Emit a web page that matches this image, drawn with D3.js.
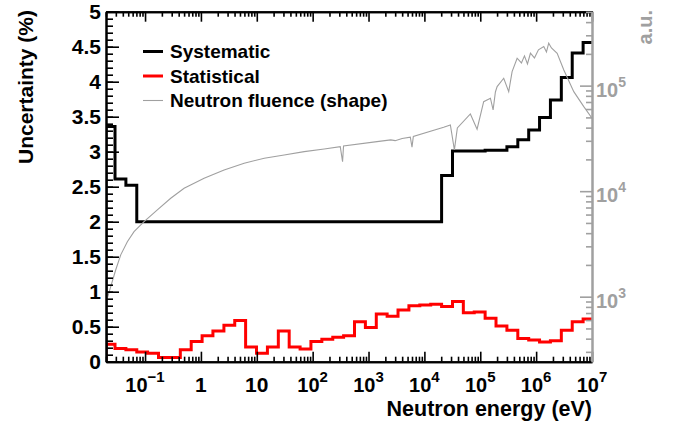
<!DOCTYPE html>
<html>
<head>
<meta charset="utf-8">
<script src="https://cdn.jsdelivr.net/npm/d3@7"></script>
<style>
  body { margin: 0; background: #fff; }
  svg { display: block; font-family: "Liberation Sans", Arial, Helvetica, sans-serif; font-weight: bold; }
</style>
</head>
<body>
<svg id="chart" width="676" height="426"></svg>
<script>
// Bin edges (eV) shared by both uncertainty histograms
const binEdges = [0.02, 0.0290, 0.0454, 0.0711, 0.111, 0.174, 0.273, 0.428, 0.670, 1.05,
  1.64, 2.58, 4.03, 6.31, 9.89, 15.5, 24.3, 38.0, 59.6, 93.1,
  146, 229, 358, 561, 879, 1377, 2153, 3373, 5284, 8279,
  12970, 20320, 31840, 49770, 77980, 122200, 191400, 299900, 469900, 736200,
  1151000, 1803000, 2825000, 4426000, 6934000, 10000000];

// Uncertainties (%) per bin
const systematic = [3.36, 2.61, 2.52,
  2.0, 2.0, 2.0, 2.0, 2.0, 2.0, 2.0, 2.0, 2.0, 2.0, 2.0, 2.0, 2.0, 2.0,
  2.0, 2.0, 2.0, 2.0, 2.0, 2.0, 2.0, 2.0, 2.0, 2.0, 2.0, 2.0, 2.0, 2.0,
  2.66, 3.01, 3.01, 3.01, 3.02, 3.02, 3.07, 3.17, 3.31, 3.49, 3.74, 4.06, 4.41, 4.56];
const statistical = [0.25, 0.19, 0.17, 0.14, 0.12, 0.06, 0.06, 0.17, 0.29, 0.37,
  0.44, 0.52, 0.59, 0.21, 0.12, 0.21, 0.44, 0.21, 0.18, 0.29,
  0.32, 0.35, 0.37, 0.57, 0.49, 0.68, 0.65, 0.74, 0.80, 0.81,
  0.82, 0.79, 0.86, 0.70, 0.71, 0.62, 0.51, 0.45, 0.33, 0.31,
  0.28, 0.30, 0.45, 0.57, 0.61];

// Neutron fluence shape (a.u., right axis)
const fluenceEnergy = [0.0204, 0.0243, 0.0298, 0.0367, 0.0482, 0.0635, 0.096, 0.166, 0.288, 0.50,
  1.14, 2.60, 5.94, 13.6, 30.9, 70.6, 161, 312, 343, 357,
  1416, 2500, 3000, 4000, 5600, 6000, 6340, 22130, 29170, 34420,
  38900, 66530, 87700, 115100, 152000, 169800, 186600, 200400, 263000, 323000,
  371500, 457000, 545800, 618000, 699800, 790700, 933000, 1100000, 1370000, 1530000,
  1680000, 1880000, 2380000, 3130000, 4720000, 7130000, 10000000];
const fluence = [910, 1245, 1790, 2490, 3320, 4130, 5140, 6640, 8570, 10660,
  13250, 15890, 18400, 20510, 22050, 23700, 25120, 26420, 19040, 26830,
  29450, 30600, 30100, 31600, 32430, 26080, 33040, 40360, 42440, 24590,
  39720, 53950, 38640, 70500, 76000, 58880, 87100, 97900, 117500, 87700,
  135800, 181900, 164100, 191400, 160700, 202800, 183200, 218300, 234400, 208900,
  252500, 227600, 202800, 140900, 87700, 63240, 49090];

const yTickLabels = ["0", "0.5", "1", "1.5", "2", "2.5", "3", "3.5", "4", "4.5", "5"];
const xDecades = [0.1, 1, 10, 1e2, 1e3, 1e4, 1e5, 1e6, 1e7];
const xDecadeLabels = [["10", "\u22121"], ["1", ""], ["10", ""], ["10", "2"], ["10", "3"],
  ["10", "4"], ["10", "5"], ["10", "6"], ["10", "7"]];
const rightDecades = [1e3, 1e4, 1e5];
const rightDecadeLabels = [["10", "3"], ["10", "4"], ["10", "5"]];
const legendNames = ["Systematic", "Statistical", "Neutron fluence (shape)"];
const legendColors = ["#000000", "#ff0000", "#a0a0a0"];

const frameL = 106, frameR = 592, frameT = 11.7, frameB = 361.7;
const grey = "#a0a0a0";

const svg = d3.select("#chart");

const x = d3.scaleLog().domain([0.02, 1e7]).range([frameL, frameR]);
const y = d3.scaleLinear().domain([0, 5]).range([frameB, frameT]);
const yR = d3.scaleLog().domain([242, 5.02e5]).range([frameB, frameT]);

svg.append("defs").append("clipPath").attr("id", "frame")
  .append("rect")
  .attr("x", frameL).attr("y", frameT)
  .attr("width", frameR - frameL).attr("height", frameB - frameT);

// Histograms as step lines
function histPoints(values) {
  const pts = [[binEdges[0], 0]];
  values.forEach((v, i) => pts.push([binEdges[i], v]));
  pts.push([binEdges[binEdges.length - 1], values[values.length - 1]]);
  return pts;
}
const stepLine = d3.line()
  .x(d => x(d[0]))
  .y(d => y(d[1]))
  .curve(d3.curveStepAfter);

const plot = svg.append("g").attr("clip-path", "url(#frame)");

plot.append("path")
  .attr("d", stepLine(histPoints(statistical)))
  .attr("fill", "none")
  .attr("stroke", "#ff0000")
  .attr("stroke-width", 3);

plot.append("path")
  .attr("d", stepLine(histPoints(systematic)))
  .attr("fill", "none")
  .attr("stroke", "#000")
  .attr("stroke-width", 3);

const fluenceLine = d3.line()
  .x((d, i) => x(fluenceEnergy[i]))
  .y(d => yR(d));

plot.append("path")
  .attr("d", fluenceLine(fluence))
  .attr("fill", "none")
  .attr("stroke", grey)
  .attr("stroke-width", 1.1);

// Axes
function styleAxis(g, color) {
  g.select(".domain").attr("stroke", color).attr("stroke-width", 2);
  g.selectAll(".tick line").attr("stroke", color).attr("stroke-width", 1.6);
}

const xMinor = x.ticks().filter(t => !xDecades.includes(t));

// bottom
svg.append("g").attr("transform", `translate(0,${frameB})`)
  .call(d3.axisBottom(x).tickValues(xMinor).tickSize(-5).tickSizeOuter(0).tickFormat(""))
  .call(g => styleAxis(g, "#000"));
svg.append("g").attr("transform", `translate(0,${frameB})`)
  .call(d3.axisBottom(x).tickValues(xDecades).tickSize(-10).tickSizeOuter(0).tickFormat(""))
  .call(g => styleAxis(g, "#000"));
// top
svg.append("g").attr("transform", `translate(0,${frameT})`)
  .call(d3.axisTop(x).tickValues(xMinor).tickSize(-5).tickSizeOuter(0).tickFormat(""))
  .call(g => styleAxis(g, "#000"));
svg.append("g").attr("transform", `translate(0,${frameT})`)
  .call(d3.axisTop(x).tickValues(xDecades).tickSize(-10).tickSizeOuter(0).tickFormat(""))
  .call(g => styleAxis(g, "#000"));

// x labels
const xLab = svg.append("g").selectAll("text")
  .data(xDecades)
  .join("text")
  .attr("x", d => x(d))
  .attr("y", 392)
  .attr("text-anchor", "middle")
  .attr("fill", "#000");
xLab.each(function (d, i) {
  const [base, exp] = xDecadeLabels[i];
  const t = d3.select(this);
  t.append("tspan").attr("font-size", exp ? 20 : 21).text(base);
  if (exp) t.append("tspan").attr("font-size", 15).attr("dy", -10).text(exp);
});

// left axis
svg.append("g").attr("transform", `translate(${frameL},0)`)
  .call(d3.axisLeft(y).ticks(50).tickSize(-7).tickSizeOuter(0).tickFormat(""))
  .call(g => styleAxis(g, "#000"));
svg.append("g").attr("transform", `translate(${frameL},0)`)
  .call(d3.axisLeft(y).ticks(10).tickSize(-13).tickSizeOuter(0).tickPadding(5)
    .tickFormat((d, i) => yTickLabels[i]))
  .call(g => styleAxis(g, "#000"))
  .call(g => g.selectAll("text")
    .attr("font-size", 21).attr("font-family", null).attr("fill", "#000"));

// right axis (log, grey)
const rMinor = yR.ticks().filter(t => !rightDecades.includes(t));
svg.append("g").attr("transform", `translate(${frameR},0)`)
  .call(d3.axisRight(yR).tickValues(rMinor).tickSize(-6).tickSizeOuter(0).tickFormat(""))
  .call(g => styleAxis(g, grey));
svg.append("g").attr("transform", `translate(${frameR},0)`)
  .call(d3.axisRight(yR).tickValues(rightDecades).tickSize(-12).tickSizeOuter(0).tickFormat(""))
  .call(g => styleAxis(g, grey));

const rLab = svg.append("g").selectAll("text")
  .data(rightDecades)
  .join("text")
  .attr("x", frameR + 4)
  .attr("y", d => yR(d) + 11)
  .attr("fill", grey);
rLab.each(function (d, i) {
  const [base, exp] = rightDecadeLabels[i];
  const t = d3.select(this);
  t.append("tspan").attr("font-size", 20).text(base);
  t.append("tspan").attr("font-size", 14).attr("dy", -10).text(exp);
});

// axis titles
svg.append("text")
  .attr("x", frameR)
  .attr("y", 416)
  .attr("text-anchor", "end")
  .attr("font-size", 21.5)
  .text("Neutron energy (eV)");

svg.append("text")
  .attr("transform", "translate(33,10) rotate(-90)")
  .attr("text-anchor", "end")
  .attr("font-size", 21)
  .text("Uncertainty (%)");

svg.append("text")
  .attr("transform", "translate(652,10) rotate(-90)")
  .attr("text-anchor", "end")
  .attr("font-size", 20)
  .attr("fill", grey)
  .text("a.u.");

// legend
const legend = svg.append("g").selectAll("g")
  .data(legendNames)
  .join("g")
  .attr("transform", (d, i) => `translate(143,${51.5 + i * 24.5})`);
legend.append("line")
  .attr("x1", 0).attr("x2", 20)
  .attr("stroke", (d, i) => legendColors[i])
  .attr("stroke-width", (d, i) => i < 2 ? 3 : 1.1);
legend.append("text")
  .attr("x", 27)
  .attr("y", 6.5)
  .attr("font-size", 19)
  .text(d => d);
</script>
</body>
</html>
